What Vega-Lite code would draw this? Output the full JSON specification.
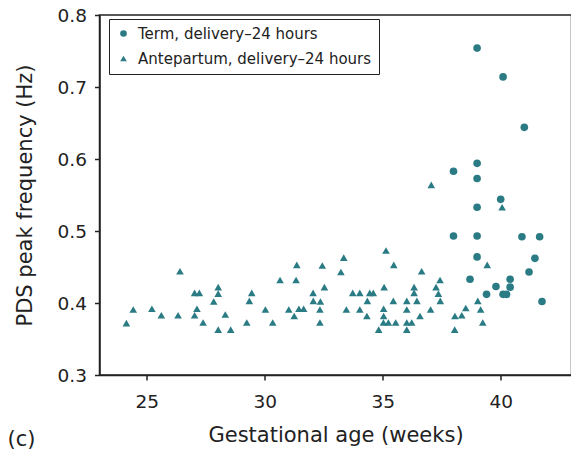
{
  "$schema": "https://vega.github.io/schema/vega-lite/v6.json",
  "width": 472,
  "height": 360,
  "autosize": {"type": "none"},
  "padding": {"left": 99.5, "top": 15, "right": 0, "bottom": 79},
  "background": "white",
  "title": {"text": "(c)", "orient": "bottom", "anchor": "start", "frame": "group", "dx": -92, "dy": -21, "fontSize": 21, "fontWeight": "normal", "font": "DejaVu Sans", "color": "#222"},
  "config": {
    "font": "DejaVu Sans",
    "view": {"stroke": "#222", "strokeWidth": 1.5},
    "axis": {"grid": false, "domainColor": "#222", "domainWidth": 1.5, "tickColor": "#222", "tickWidth": 1.5, "tickSize": 5, "labelFontSize": 18.5, "labelColor": "#222", "titleFontSize": 21, "titleFontWeight": "normal", "titleColor": "#222", "labelFont": "DejaVu Sans", "titleFont": "DejaVu Sans"}
  },
  "data": {"values": [
    {"ga": 39.0, "freq": 0.754, "group": "Term, delivery–24 hours"},
    {"ga": 40.1, "freq": 0.714, "group": "Term, delivery–24 hours"},
    {"ga": 41.0, "freq": 0.644, "group": "Term, delivery–24 hours"},
    {"ga": 39.0, "freq": 0.594, "group": "Term, delivery–24 hours"},
    {"ga": 38.0, "freq": 0.583, "group": "Term, delivery–24 hours"},
    {"ga": 39.0, "freq": 0.573, "group": "Term, delivery–24 hours"},
    {"ga": 40.0, "freq": 0.544, "group": "Term, delivery–24 hours"},
    {"ga": 39.0, "freq": 0.533, "group": "Term, delivery–24 hours"},
    {"ga": 38.0, "freq": 0.493, "group": "Term, delivery–24 hours"},
    {"ga": 39.0, "freq": 0.493, "group": "Term, delivery–24 hours"},
    {"ga": 40.9, "freq": 0.492, "group": "Term, delivery–24 hours"},
    {"ga": 41.65, "freq": 0.492, "group": "Term, delivery–24 hours"},
    {"ga": 39.0, "freq": 0.464, "group": "Term, delivery–24 hours"},
    {"ga": 41.45, "freq": 0.462, "group": "Term, delivery–24 hours"},
    {"ga": 38.7, "freq": 0.433, "group": "Term, delivery–24 hours"},
    {"ga": 41.2, "freq": 0.443, "group": "Term, delivery–24 hours"},
    {"ga": 40.4, "freq": 0.433, "group": "Term, delivery–24 hours"},
    {"ga": 39.8, "freq": 0.423, "group": "Term, delivery–24 hours"},
    {"ga": 40.4, "freq": 0.422, "group": "Term, delivery–24 hours"},
    {"ga": 39.4, "freq": 0.412, "group": "Term, delivery–24 hours"},
    {"ga": 40.1, "freq": 0.412, "group": "Term, delivery–24 hours"},
    {"ga": 40.25, "freq": 0.412, "group": "Term, delivery–24 hours"},
    {"ga": 41.75, "freq": 0.402, "group": "Term, delivery–24 hours"},
    {"ga": 26.41, "freq": 0.444, "group": "Antepartum, delivery–24 hours"},
    {"ga": 24.43, "freq": 0.391, "group": "Antepartum, delivery–24 hours"},
    {"ga": 24.14, "freq": 0.372, "group": "Antepartum, delivery–24 hours"},
    {"ga": 25.22, "freq": 0.392, "group": "Antepartum, delivery–24 hours"},
    {"ga": 25.62, "freq": 0.383, "group": "Antepartum, delivery–24 hours"},
    {"ga": 26.33, "freq": 0.383, "group": "Antepartum, delivery–24 hours"},
    {"ga": 27.03, "freq": 0.414, "group": "Antepartum, delivery–24 hours"},
    {"ga": 27.23, "freq": 0.414, "group": "Antepartum, delivery–24 hours"},
    {"ga": 27.13, "freq": 0.392, "group": "Antepartum, delivery–24 hours"},
    {"ga": 27.03, "freq": 0.383, "group": "Antepartum, delivery–24 hours"},
    {"ga": 27.39, "freq": 0.373, "group": "Antepartum, delivery–24 hours"},
    {"ga": 28.03, "freq": 0.422, "group": "Antepartum, delivery–24 hours"},
    {"ga": 28.03, "freq": 0.413, "group": "Antepartum, delivery–24 hours"},
    {"ga": 27.84, "freq": 0.402, "group": "Antepartum, delivery–24 hours"},
    {"ga": 28.33, "freq": 0.384, "group": "Antepartum, delivery–24 hours"},
    {"ga": 28.03, "freq": 0.363, "group": "Antepartum, delivery–24 hours"},
    {"ga": 28.56, "freq": 0.363, "group": "Antepartum, delivery–24 hours"},
    {"ga": 29.45, "freq": 0.414, "group": "Antepartum, delivery–24 hours"},
    {"ga": 29.35, "freq": 0.403, "group": "Antepartum, delivery–24 hours"},
    {"ga": 29.24, "freq": 0.373, "group": "Antepartum, delivery–24 hours"},
    {"ga": 30.03, "freq": 0.391, "group": "Antepartum, delivery–24 hours"},
    {"ga": 30.34, "freq": 0.373, "group": "Antepartum, delivery–24 hours"},
    {"ga": 30.65, "freq": 0.432, "group": "Antepartum, delivery–24 hours"},
    {"ga": 31.02, "freq": 0.391, "group": "Antepartum, delivery–24 hours"},
    {"ga": 31.25, "freq": 0.382, "group": "Antepartum, delivery–24 hours"},
    {"ga": 31.36, "freq": 0.453, "group": "Antepartum, delivery–24 hours"},
    {"ga": 31.33, "freq": 0.432, "group": "Antepartum, delivery–24 hours"},
    {"ga": 31.45, "freq": 0.392, "group": "Antepartum, delivery–24 hours"},
    {"ga": 31.65, "freq": 0.392, "group": "Antepartum, delivery–24 hours"},
    {"ga": 32.05, "freq": 0.414, "group": "Antepartum, delivery–24 hours"},
    {"ga": 32.06, "freq": 0.403, "group": "Antepartum, delivery–24 hours"},
    {"ga": 32.36, "freq": 0.402, "group": "Antepartum, delivery–24 hours"},
    {"ga": 32.34, "freq": 0.391, "group": "Antepartum, delivery–24 hours"},
    {"ga": 32.34, "freq": 0.373, "group": "Antepartum, delivery–24 hours"},
    {"ga": 32.44, "freq": 0.452, "group": "Antepartum, delivery–24 hours"},
    {"ga": 32.53, "freq": 0.422, "group": "Antepartum, delivery–24 hours"},
    {"ga": 33.23, "freq": 0.443, "group": "Antepartum, delivery–24 hours"},
    {"ga": 33.35, "freq": 0.463, "group": "Antepartum, delivery–24 hours"},
    {"ga": 33.46, "freq": 0.391, "group": "Antepartum, delivery–24 hours"},
    {"ga": 33.73, "freq": 0.414, "group": "Antepartum, delivery–24 hours"},
    {"ga": 34.03, "freq": 0.414, "group": "Antepartum, delivery–24 hours"},
    {"ga": 34.03, "freq": 0.391, "group": "Antepartum, delivery–24 hours"},
    {"ga": 34.35, "freq": 0.403, "group": "Antepartum, delivery–24 hours"},
    {"ga": 34.33, "freq": 0.382, "group": "Antepartum, delivery–24 hours"},
    {"ga": 34.45, "freq": 0.414, "group": "Antepartum, delivery–24 hours"},
    {"ga": 34.6, "freq": 0.414, "group": "Antepartum, delivery–24 hours"},
    {"ga": 34.83, "freq": 0.363, "group": "Antepartum, delivery–24 hours"},
    {"ga": 35.06, "freq": 0.422, "group": "Antepartum, delivery–24 hours"},
    {"ga": 35.04, "freq": 0.392, "group": "Antepartum, delivery–24 hours"},
    {"ga": 35.04, "freq": 0.382, "group": "Antepartum, delivery–24 hours"},
    {"ga": 35.03, "freq": 0.373, "group": "Antepartum, delivery–24 hours"},
    {"ga": 35.14, "freq": 0.473, "group": "Antepartum, delivery–24 hours"},
    {"ga": 35.24, "freq": 0.373, "group": "Antepartum, delivery–24 hours"},
    {"ga": 35.47, "freq": 0.453, "group": "Antepartum, delivery–24 hours"},
    {"ga": 35.45, "freq": 0.403, "group": "Antepartum, delivery–24 hours"},
    {"ga": 35.55, "freq": 0.373, "group": "Antepartum, delivery–24 hours"},
    {"ga": 36.02, "freq": 0.403, "group": "Antepartum, delivery–24 hours"},
    {"ga": 36.02, "freq": 0.391, "group": "Antepartum, delivery–24 hours"},
    {"ga": 36.02, "freq": 0.373, "group": "Antepartum, delivery–24 hours"},
    {"ga": 36.02, "freq": 0.363, "group": "Antepartum, delivery–24 hours"},
    {"ga": 36.23, "freq": 0.373, "group": "Antepartum, delivery–24 hours"},
    {"ga": 36.33, "freq": 0.422, "group": "Antepartum, delivery–24 hours"},
    {"ga": 36.33, "freq": 0.414, "group": "Antepartum, delivery–24 hours"},
    {"ga": 36.45, "freq": 0.403, "group": "Antepartum, delivery–24 hours"},
    {"ga": 36.58, "freq": 0.382, "group": "Antepartum, delivery–24 hours"},
    {"ga": 36.65, "freq": 0.444, "group": "Antepartum, delivery–24 hours"},
    {"ga": 37.03, "freq": 0.391, "group": "Antepartum, delivery–24 hours"},
    {"ga": 37.26, "freq": 0.422, "group": "Antepartum, delivery–24 hours"},
    {"ga": 37.36, "freq": 0.413, "group": "Antepartum, delivery–24 hours"},
    {"ga": 37.43, "freq": 0.432, "group": "Antepartum, delivery–24 hours"},
    {"ga": 37.44, "freq": 0.403, "group": "Antepartum, delivery–24 hours"},
    {"ga": 38.05, "freq": 0.363, "group": "Antepartum, delivery–24 hours"},
    {"ga": 38.06, "freq": 0.382, "group": "Antepartum, delivery–24 hours"},
    {"ga": 38.35, "freq": 0.383, "group": "Antepartum, delivery–24 hours"},
    {"ga": 38.52, "freq": 0.393, "group": "Antepartum, delivery–24 hours"},
    {"ga": 39.03, "freq": 0.403, "group": "Antepartum, delivery–24 hours"},
    {"ga": 39.15, "freq": 0.391, "group": "Antepartum, delivery–24 hours"},
    {"ga": 39.24, "freq": 0.373, "group": "Antepartum, delivery–24 hours"},
    {"ga": 39.43, "freq": 0.453, "group": "Antepartum, delivery–24 hours"},
    {"ga": 37.06, "freq": 0.564, "group": "Antepartum, delivery–24 hours"},
    {"ga": 40.06, "freq": 0.533, "group": "Antepartum, delivery–24 hours"}
  ]},
  "mark": {"type": "point", "filled": true, "opacity": 1, "size": 58, "color": "#2a7b84"},
  "encoding": {
    "x": {"field": "ga", "type": "quantitative", "scale": {"domain": [23, 43], "nice": false, "zero": false},
      "axis": {"title": "Gestational age (weeks)", "values": [25, 30, 35, 40], "labelPadding": 12, "titlePadding": 14}},
    "y": {"field": "freq", "type": "quantitative", "scale": {"domain": [0.3, 0.8], "nice": false, "zero": false},
      "axis": {"title": "PDS peak frequency (Hz)", "values": [0.3, 0.4, 0.5, 0.6, 0.7, 0.8], "format": ".1f", "labelPadding": 8, "titlePadding": 22}},
    "shape": {"field": "group", "type": "nominal",
      "scale": {"domain": ["Term, delivery–24 hours", "Antepartum, delivery–24 hours"], "range": ["circle", "triangle-up"]},
      "legend": {"title": null, "orient": "none", "legendX": 9.5, "legendY": 4, "padding": 7, "strokeColor": "#222", "fillColor": "white", "cornerRadius": 0, "labelFontSize": 15, "labelColor": "#222", "labelFont": "DejaVu Sans", "labelOffset": 7, "labelLimit": 500, "rowPadding": 9, "symbolSize": 44, "symbolFillColor": "#2a7b84", "symbolStrokeWidth": 0, "symbolOpacity": 1,
        "encode": {"legend": {"update": {"strokeWidth": {"value": 1.5}}}}}}
  }
}
